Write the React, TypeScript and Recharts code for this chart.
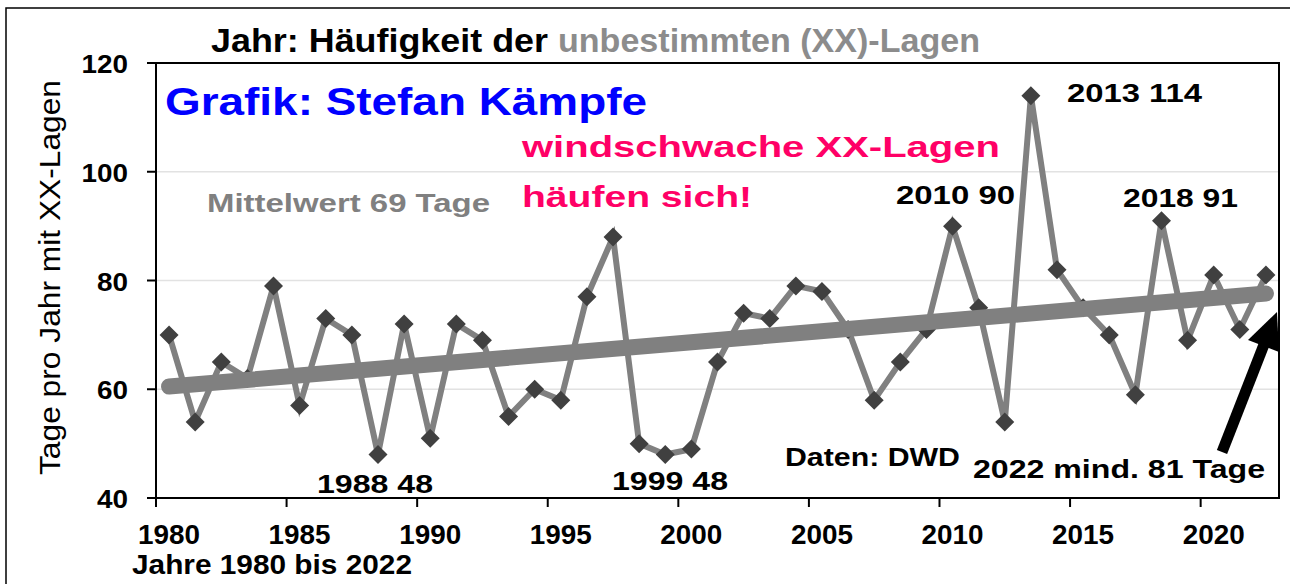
import React from 'react';
import { CartesianGrid, Line, LineChart, XAxis, YAxis } from 'recharts';

const YEARS = [
  1980, 1981, 1982, 1983, 1984, 1985, 1986, 1987, 1988, 1989,
  1990, 1991, 1992, 1993, 1994, 1995, 1996, 1997, 1998, 1999,
  2000, 2001, 2002, 2003, 2004, 2005, 2006, 2007, 2008, 2009,
  2010, 2011, 2012, 2013, 2014, 2015, 2016, 2017, 2018, 2019,
  2020, 2021, 2022,
];
const DAYS = [
  70, 54, 65, 62, 79, 57, 73, 70, 48, 72,
  51, 72, 69, 55, 60, 58, 77, 88, 50, 48,
  49, 65, 74, 73, 79, 78, 71, 58, 65, 71,
  90, 75, 54, 114, 82, 75, 70, 59, 91, 69,
  81, 71, 81,
];
// linear trend, read at both ends
const TREND_START = 60.5;
const TREND_END = 77.6;
const X_TICKS = [1980, 1985, 1990, 1995, 2000, 2005, 2010, 2015, 2020];
const Y_TICKS = [40, 60, 80, 100, 120];

const rows = YEARS.map((year, i) => ({
  year,
  days: DAYS[i],
  trend: i === 0 ? TREND_START : i === YEARS.length - 1 ? TREND_END : null,
}));

const FONT = '"Liberation Sans", Arial, sans-serif';
const HALF_BAND = 1123 / 43 / 2;

function Txt({ x, y, w, size, fill = '#000', weight = 700, children }: any) {
  return (
    <text
      x={x}
      y={y}
      fontSize={size}
      fontWeight={weight}
      fill={fill}
      fontFamily={FONT}
      textLength={w}
      lengthAdjust="spacingAndGlyphs"
    >
      {children}
    </text>
  );
}

function Diamond({ cx, cy }: any) {
  if (cx == null || cy == null) return null;
  const r = 9.5;
  return (
    <polygon
      points={`${cx},${cy - r} ${cx + r},${cy} ${cx},${cy + r} ${cx - r},${cy}`}
      fill="#404040"
    />
  );
}

function YearTick({ x, y, payload }: any) {
  return (
    <g>
      <line x1={x - HALF_BAND} x2={x - HALF_BAND} y1={y} y2={y + 9} stroke="#000" strokeWidth={2} />
      <text
        x={x}
        y={y + 46}
        textAnchor="middle"
        fontSize={27}
        fontWeight={700}
        fontFamily={FONT}
        fill="#000"
        textLength={62}
        lengthAdjust="spacingAndGlyphs"
      >
        {payload.value}
      </text>
    </g>
  );
}

function DaysTick({ x, y, payload }: any) {
  const s = String(payload.value);
  return (
    <text
      x={x}
      y={y + 10}
      textAnchor="end"
      fontSize={26}
      fontWeight={700}
      fontFamily={FONT}
      fill="#000"
      textLength={s.length * 15.5}
      lengthAdjust="spacingAndGlyphs"
    >
      {s}
    </text>
  );
}

export default function App() {
  return (
    <div style={{ position: 'absolute', left: 0, top: 0, width: 1290, height: 584, background: '#fff', overflow: 'hidden' }}>
      <LineChart width={1290} height={584} data={rows} margin={{ top: 63, right: 11, bottom: 0, left: 0 }}>
        <CartesianGrid vertical={false} stroke="#e2e2e2" strokeWidth={1.5} />
        <XAxis
          dataKey="year"
          type="number"
          domain={[1979.5, 2022.5]}
          ticks={X_TICKS}
          height={86}
          tickSize={0}
          tickMargin={0}
          tickLine={false}
          axisLine={{ stroke: '#000', strokeWidth: 2 }}
          tick={<YearTick />}
        />
        <YAxis
          domain={[40, 120]}
          ticks={Y_TICKS}
          width={156}
          tickSize={9}
          tickMargin={19}
          tickLine={{ stroke: '#000', strokeWidth: 2 }}
          axisLine={{ stroke: '#000', strokeWidth: 2 }}
          tick={<DaysTick />}
        />
        <Line
          dataKey="days"
          type="linear"
          stroke="#808080"
          strokeWidth={6}
          dot={<Diamond />}
          activeDot={false}
          isAnimationActive={false}
        />
        <Line
          dataKey="trend"
          type="linear"
          connectNulls
          stroke="#808080"
          strokeWidth={16}
          strokeLinecap="round"
          dot={false}
          activeDot={false}
          isAnimationActive={false}
          {...({ zIndex: 700 } as any)}
        />
      </LineChart>
      <svg width={1290} height={584} style={{ position: 'absolute', left: 0, top: 0, pointerEvents: 'none' }}>
        <rect x={6} y={8} width={1400} height={700} fill="none" stroke="#000" strokeWidth={1.5} />
        <rect x={156} y={63} width={1123} height={435} fill="none" stroke="#000" strokeWidth={2} />
        <Txt x={211} y={52} w={337} size={33}>Jahr: Häufigkeit der</Txt>
        <Txt x={558} y={52} w={422} size={33} fill="#8c8c8c">unbestimmten (XX)-Lagen</Txt>
        <text
          transform="translate(60,277.5) rotate(-90)"
          textAnchor="middle"
          fontSize={30}
          fontFamily={FONT}
          fill="#000"
          textLength={395}
          lengthAdjust="spacingAndGlyphs"
        >
          Tage pro Jahr mit XX-Lagen
        </text>
        <Txt x={132} y={574} w={280} size={27}>Jahre 1980 bis 2022</Txt>
        <Txt x={165} y={115} w={482} size={39} fill="#0000ff">Grafik: Stefan Kämpfe</Txt>
        <Txt x={522} y={157} w={478} size={30} fill="#ff0066">windschwache XX-Lagen</Txt>
        <Txt x={522} y={207} w={230} size={30} fill="#ff0066">häufen sich!</Txt>
        <Txt x={207} y={212} w={283} size={26} fill="#808080">Mittelwert 69 Tage</Txt>
        <Txt x={317} y={493} w={116} size={26}>1988 48</Txt>
        <Txt x={612} y={490} w={116} size={26}>1999 48</Txt>
        <Txt x={896} y={204} w={119} size={26}>2010 90</Txt>
        <Txt x={1067} y={102} w={135} size={26}>2013 114</Txt>
        <Txt x={1123} y={207} w={115} size={26}>2018 91</Txt>
        <Txt x={785} y={466} w={175} size={26}>Daten: DWD</Txt>
        <Txt x={973} y={478} w={292} size={26}>2022 mind. 81 Tage</Txt>
        <line x1={1222} y1={452} x2={1265} y2={342} stroke="#000" strokeWidth={11} />
        <polygon points="1277,312 1279,352 1248,340" fill="#000" />
      </svg>
    </div>
  );
}
